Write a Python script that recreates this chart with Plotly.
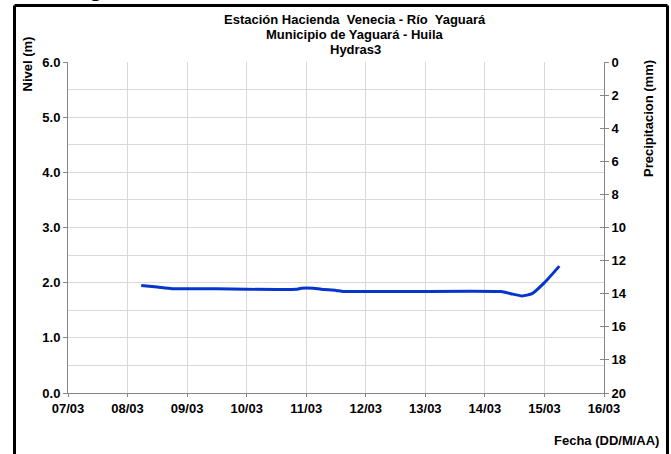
import plotly.graph_objects as go

# ---- data ----
fechas = [
    "2014-03-08 05:30", "2014-03-08 12:00", "2014-03-08 18:00", "2014-03-09 12:00",
    "2014-03-10 00:00", "2014-03-10 20:00", "2014-03-10 22:00", "2014-03-11 03:00",
    "2014-03-11 06:00", "2014-03-11 12:00", "2014-03-11 15:00", "2014-03-14 06:30",
    "2014-03-14 10:30", "2014-03-14 15:00", "2014-03-14 19:00", "2014-03-15 00:00",
    "2014-03-15 06:00",
]
nivel = [1.95, 1.92, 1.89, 1.89, 1.88, 1.88, 1.90, 1.90,
         1.88, 1.86, 1.84, 1.84, 1.80, 1.76, 1.80, 2.00, 2.30]
precip_fechas = []
precip = []

titulo = ["Estación Hacienda  Venecia - Río  Yaguará",
          "Municipio de Yaguará - Huila",
          "Hydras3"]

FONT = "Liberation Sans, Arial, sans-serif"
W, H = 671, 454
L, R, T, B = 68, 604, 62, 393

def px(x):
    return (x - L) / (R - L)

def py(y):
    return (B - y) / (B - T)

fig = go.Figure()
fig.add_trace(go.Scatter(
    x=fechas, y=nivel, mode="lines",
    line=dict(color="#0636cc", width=3, shape="spline", smoothing=0.5),
    showlegend=False, hoverinfo="skip"))
fig.add_trace(go.Bar(x=precip_fechas, y=precip, yaxis="y2", showlegend=False))

grid = "#d9d9d9"
axc = "#868686"

fig.update_layout(
    width=W, height=H,
    margin=dict(l=L, r=W - R, t=T, b=H - B),
    paper_bgcolor="white", plot_bgcolor="white",
    font=dict(family=FONT, size=13, color="black"),
    xaxis=dict(
        type="date", range=["2014-03-07", "2014-03-16"],
        dtick=86400000, tick0="2014-03-07", tickformat="%d/%m",
        showgrid=True, gridcolor=grid, gridwidth=1,
        showline=True, linecolor=axc, linewidth=1,
        ticks="outside", ticklen=3, tickcolor=axc,
        tickfont=dict(family=FONT, size=13, color="black", weight="bold"),
        zeroline=False, fixedrange=True,
    ),
    yaxis=dict(
        range=[0, 6], dtick=1, tickformat=".1f",
        showgrid=True, gridcolor=grid, gridwidth=1,
        minor=dict(dtick=0.5, showgrid=True, gridcolor=grid, gridwidth=1),
        showline=True, linecolor=axc, linewidth=1,
        ticks="outside", ticklen=4, tickcolor=axc,
        tickfont=dict(family=FONT, size=13, color="black", weight="bold"),
        zeroline=False, fixedrange=True,
    ),
    yaxis2=dict(
        range=[20, 0], dtick=2, tick0=0, overlaying="y", side="right",
        showgrid=False, showline=True, linecolor=axc, linewidth=1,
        ticks="outside", ticklen=4, tickcolor=axc,
        tickfont=dict(family=FONT, size=13, color="black", weight="bold"),
        zeroline=False, fixedrange=True,
    ),
    yaxis3=dict(
        range=[20, 0], dtick=2, tick0=0, overlaying="y", side="right",
        showgrid=False, showline=False, showticklabels=False,
        ticks="inside", ticklen=4, tickcolor=axc,
        zeroline=False, fixedrange=True,
    ),
    bargap=0.3,
)
fig.add_trace(go.Scatter(x=[], y=[], yaxis="y3", showlegend=False))

ann = []
for i, (t, yy) in enumerate(zip(titulo, [19, 34, 49])):
    ann.append(dict(text=t, x=px(355), y=py(yy), xref="paper", yref="paper",
                    xanchor="center", yanchor="middle", showarrow=False,
                    font=dict(family=FONT, size=13, color="black", weight="bold")))
ann.append(dict(text="Nivel (m)", x=px(27.5), y=py(64), xref="paper", yref="paper",
                xanchor="center", yanchor="middle", textangle=-90, showarrow=False,
                font=dict(family=FONT, size=13, color="black", weight="bold")))
ann.append(dict(text="Precipitacion (mm)", x=px(648.5), y=py(118.5), xref="paper", yref="paper",
                xanchor="center", yanchor="middle", textangle=-90, showarrow=False,
                font=dict(family=FONT, size=13, color="black", weight="bold")))
ann.append(dict(text="Fecha (DD/M/AA)", x=px(661), y=py(440), xref="paper", yref="paper",
                xanchor="right", yanchor="middle", showarrow=False,
                font=dict(family=FONT, size=13, color="black", weight="bold")))
ann.append(dict(text="g", x=px(95), y=py(-11), xref="paper", yref="paper",
                xanchor="center", yanchor="middle", showarrow=False,
                font=dict(family=FONT, size=22, color="black", weight="bold")))
fig.update_layout(annotations=ann)

frame = dict(color="black", width=3)
for x0, y0, x1, y1 in [(14.5, 5.5, 667.5, 5.5), (14.5, 5.5, 14.5, 470),
                       (667.5, 5.5, 667.5, 470)]:
    fig.add_shape(type="line", xref="paper", yref="paper",
                  x0=px(x0), x1=px(x1), y0=py(y0), y1=py(y1),
                  line=frame, layer="above")

fig.write_html(
    "out.html",
    config={"displayModeBar": False},
    post_script="document.body.style.margin='0';document.body.style.overflow='hidden';",
)
